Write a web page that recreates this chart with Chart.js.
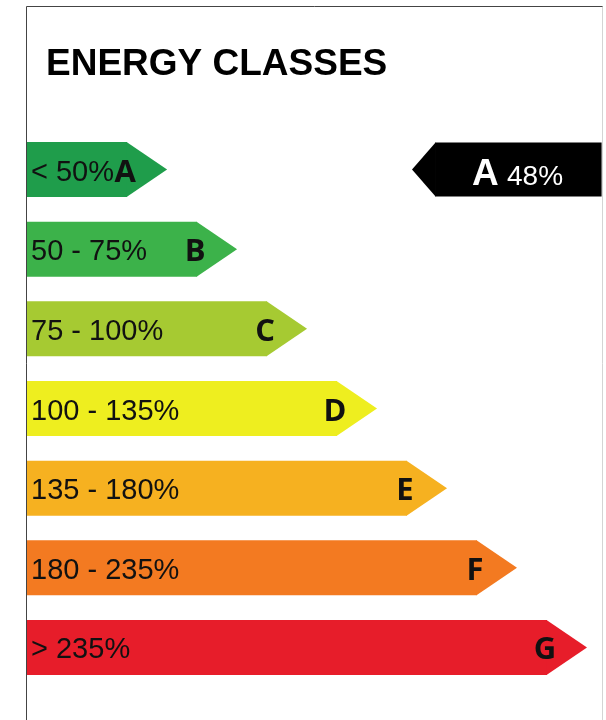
<!DOCTYPE html>
<html>
<head>
<meta charset="utf-8">
<script src="https://cdn.jsdelivr.net/npm/chart.js@4"></script>
<style>
  html, body { margin: 0; padding: 0; background: #fff; }
  #wrap { width: 606px; height: 720px; position: relative; }
</style>
</head>
<body>
<div id="wrap"><canvas id="energy-chart"></canvas></div>
<script>
// --- data ---
const classes = ['A', 'B', 'C', 'D', 'E', 'F', 'G'];
const ranges = ['< 50%', '50 - 75%', '75 - 100%', '100 - 135%', '135 - 180%', '180 - 235%', '> 235%'];
const classRank = [1, 2, 3, 4, 5, 6, 7];
const classColors = ['#1f9d4b', '#3cb24a', '#a6ca32', '#eeee1f', '#f6b120', '#f37a21', '#e71d2a'];
const ratedClass = 'A';
const ratedValue = '48%';
const badgeSpan = [5.4, 7.78];
const titleText = 'ENERGY CLASSES';

const xMin = -0.43, xMax = 7.8;

// --- arrow tips, labels, frame and title ---
const energyLabel = {
    id: 'energyLabel',
    afterDatasetsDraw(chart) {
        const ctx = chart.ctx;
        ctx.save();
        // class arrows
        chart.getDatasetMeta(0).data.forEach((bar, i) => {
            const half = bar.height / 2;
            ctx.fillStyle = classColors[i];
            ctx.beginPath();
            ctx.moveTo(bar.x - 0.5, bar.y - half);
            ctx.lineTo(bar.x + 40, bar.y);
            ctx.lineTo(bar.x - 0.5, bar.y + half);
            ctx.closePath();
            ctx.fill();

            ctx.fillStyle = '#111';
            ctx.textBaseline = 'alphabetic';
            ctx.textAlign = 'left';
            ctx.font = '29px "Liberation Sans", Arial, sans-serif';
            ctx.fillText(ranges[i], bar.base + 4, bar.y + 11);

            ctx.textAlign = 'center';
            ctx.font = 'bold 31px "Open Sans", "Liberation Sans", sans-serif';
            ctx.fillText(classes[i], bar.x - 2, bar.y + 12);
        });

        // rating badge
        const meta = chart.getDatasetMeta(1);
        meta.data.forEach((bar, i) => {
            if (chart.data.datasets[1].data[i] == null) return;
            const half = bar.height / 2;
            ctx.fillStyle = '#000';
            ctx.beginPath();
            ctx.moveTo(bar.base + 0.5, bar.y - half);
            ctx.lineTo(bar.base - 23, bar.y);
            ctx.lineTo(bar.base + 0.5, bar.y + half);
            ctx.closePath();
            ctx.fill();

            ctx.fillStyle = '#fff';
            ctx.textAlign = 'left';
            ctx.textBaseline = 'alphabetic';
            ctx.font = 'bold 37px "Liberation Sans", Arial, sans-serif';
            ctx.fillText(ratedClass, bar.base + 37, bar.y + 15);
            ctx.font = '28px "Liberation Sans", Arial, sans-serif';
            ctx.fillText(ratedValue, bar.base + 72, bar.y + 15);
        });

        // frame
        ctx.lineWidth = 1;
        ctx.strokeStyle = '#444';
        ctx.beginPath();
        ctx.moveTo(26.5, 720);
        ctx.lineTo(26.5, 6.5);
        ctx.lineTo(603, 6.5);
        ctx.stroke();
        ctx.strokeStyle = '#d4d4d4';
        ctx.beginPath();
        ctx.moveTo(602.5, 6.5);
        ctx.lineTo(602.5, 720);
        ctx.stroke();

        // title
        ctx.fillStyle = '#000';
        ctx.textAlign = 'left';
        ctx.font = 'bold 37px "Liberation Sans", Arial, sans-serif';
        ctx.fillText(titleText, 46, 75);
        ctx.restore();
    }
};

const ctx = document.getElementById('energy-chart').getContext('2d');
new Chart(ctx, {
    type: 'bar',
    data: {
        labels: classes,
        datasets: [{
            label: 'Class',
            data: classRank,
            base: xMin,
            backgroundColor: classColors,
            borderWidth: 0,
            grouped: false,
            barPercentage: 1,
            categoryPercentage: 0.69
        }, {
            label: 'Rating',
            data: classes.map(c => c === ratedClass ? badgeSpan : null),
            backgroundColor: '#000',
            borderWidth: 0,
            grouped: false,
            barPercentage: 1,
            categoryPercentage: 0.68
        }]
    },
    options: {
        indexAxis: 'y',
        responsive: true,
        maintainAspectRatio: false,
        animation: false,
        layout: { padding: { left: 27, right: 3, top: 129.7, bottom: 32.7 } },
        plugins: {
            legend: { display: false },
            tooltip: { enabled: false },
            title: { display: false }
        },
        scales: {
            x: { display: false, min: xMin, max: xMax },
            y: { display: false }
        }
    },
    plugins: [energyLabel]
});
</script>
</body>
</html>
